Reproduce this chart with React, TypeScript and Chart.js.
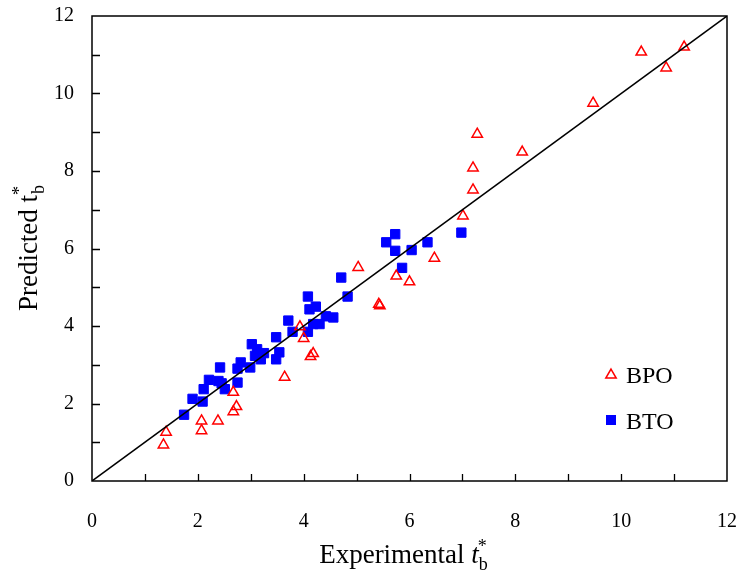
import React, { useEffect, useRef } from 'react';
import { Chart, registerables } from 'chart.js';

Chart.register(...registerables);

const SERIF = '"Liberation Serif", "Times New Roman", serif';

// Axis settings
const axisMin = 0;
const axisMax = 12;
const majorTicks = [0, 2, 4, 6, 8, 10, 12];
const minorTicks = [1, 2, 3, 4, 5, 6, 7, 8, 9, 10, 11];

// Series names
const seriesNames = ['BPO', 'BTO'];

// BPO (red open triangles)
const bpoX = [1.35, 1.40, 2.07, 2.07, 2.38, 2.67, 2.73, 2.67, 3.64, 3.93, 4.00, 4.13, 4.18, 5.03, 5.42, 5.44, 5.75, 6.00, 6.47, 7.01, 7.20, 7.20, 7.28, 8.13, 9.47, 10.38, 10.85, 11.19];
const bpoY = [0.93, 1.26, 1.55, 1.30, 1.55, 2.29, 1.92, 1.79, 2.68, 3.98, 3.68, 3.21, 3.29, 5.51, 4.56, 4.52, 5.29, 5.14, 5.75, 6.84, 7.51, 8.08, 8.95, 8.49, 9.75, 11.07, 10.66, 11.20];

// BTO (blue filled squares)
const btoX = [1.74, 1.90, 2.09, 2.11, 2.21, 2.39, 2.45, 2.51, 2.42, 2.75, 2.75, 2.81, 2.99, 3.02, 3.12, 3.25, 3.19, 3.08, 3.48, 3.54, 3.48, 3.71, 3.79, 4.08, 4.08, 4.11, 4.23, 4.18, 4.30, 4.42, 4.56, 4.83, 4.71, 5.56, 5.73, 5.73, 5.86, 6.04, 6.34, 6.98];
const btoY = [1.71, 2.12, 2.05, 2.37, 2.61, 2.58, 2.52, 2.37, 2.93, 2.54, 2.90, 3.06, 2.93, 3.53, 3.40, 3.30, 3.14, 3.23, 3.14, 3.32, 3.71, 4.14, 3.85, 3.85, 4.76, 4.43, 4.50, 4.05, 4.05, 4.25, 4.22, 4.76, 5.25, 6.16, 6.37, 5.94, 5.50, 5.96, 6.16, 6.41];

// 1:1 line
const parityX = [0, 12];
const parityY = [0, 12];

const RED = '#FF0000';
const BLUE = '#0000FF';

const decorPlugin = {
  id: 'decor',
  afterDraw(chart: any) {
    const { ctx, chartArea } = chart;
    const { left, right, top, bottom } = chartArea;
    const xs = chart.scales.x;
    const ys = chart.scales.y;
    ctx.save();
    // frame
    ctx.strokeStyle = '#000';
    ctx.lineWidth = 1.5;
    ctx.strokeRect(left, top, right - left, bottom - top);
    // inward ticks
    ctx.lineWidth = 1.3;
    ctx.beginPath();
    minorTicks.forEach((v) => {
      const px = Math.round(xs.getPixelForValue(v)) + 0.5;
      ctx.moveTo(px, bottom);
      ctx.lineTo(px, bottom - 7);
      const py = Math.round(ys.getPixelForValue(v)) + 0.5;
      ctx.moveTo(left, py);
      ctx.lineTo(left + 8, py);
    });
    ctx.stroke();

    // x title: "Experimental t*_b"
    ctx.fillStyle = '#000';
    ctx.textBaseline = 'alphabetic';
    ctx.textAlign = 'left';
    const mainFont = `27px ${SERIF}`;
    const italFont = `italic 27px ${SERIF}`;
    const smallFont = `18px ${SERIF}`;
    ctx.font = mainFont;
    const w1 = ctx.measureText('Experimental ').width;
    ctx.font = italFont;
    const w2 = ctx.measureText('t').width;
    ctx.font = smallFont;
    const w3 = ctx.measureText('b').width;
    const totalX = w1 + w2 + w3;
    const cx = (left + right) / 2 - 6;
    const x0 = cx - totalX / 2;
    const by = 563;
    ctx.font = mainFont;
    ctx.fillText('Experimental ', x0, by);
    ctx.font = italFont;
    ctx.fillText('t', x0 + w1, by);
    ctx.font = smallFont;
    ctx.fillText('b', x0 + w1 + w2, by + 7);
    ctx.fillText('*', x0 + w1 + w2 - 1, by - 11);

    // y title: "Predicted t*_b" rotated
    ctx.save();
    const cy = (top + bottom) / 2;
    ctx.translate(37, cy);
    ctx.rotate(-Math.PI / 2);
    ctx.font = mainFont;
    const u1 = ctx.measureText('Predicted t').width;
    ctx.font = smallFont;
    const u2 = ctx.measureText('b').width;
    const sx = -(u1 + u2) / 2;
    ctx.font = mainFont;
    ctx.fillText('Predicted t', sx, 0);
    ctx.font = smallFont;
    ctx.fillText('b', sx + u1 + 1, 7);
    ctx.fillText('*', sx + u1, -12);
    ctx.restore();

    // legend
    const lx = right - 116;
    const ly1 = top + 359;
    const ly2 = top + 404;
    const r = 6;
    ctx.strokeStyle = RED;
    ctx.lineWidth = 1.5;
    ctx.beginPath();
    ctx.moveTo(lx, ly1 - r);
    ctx.lineTo(lx + r * Math.sin(Math.PI * 2 / 3), ly1 - r * Math.cos(Math.PI * 2 / 3));
    ctx.lineTo(lx + r * Math.sin(Math.PI * 4 / 3), ly1 - r * Math.cos(Math.PI * 4 / 3));
    ctx.closePath();
    ctx.stroke();
    ctx.fillStyle = BLUE;
    ctx.fillRect(lx - 5, ly2 - 5, 10, 10);
    ctx.fillStyle = '#000';
    ctx.font = `24px ${SERIF}`;
    ctx.fillText(seriesNames[0], lx + 15, ly1 + 8);
    ctx.fillText(seriesNames[1], lx + 15, ly2 + 9);
    ctx.restore();
  },
};

const zeroPad = (s: any) => {
  s.paddingLeft = 0;
  s.paddingRight = 0;
  s.paddingTop = 0;
  s.paddingBottom = 0;
};

export default function App() {
  const ref = useRef<HTMLCanvasElement | null>(null);
  useEffect(() => {
    document.body.style.margin = '0';
    const canvas = ref.current;
    if (!canvas) return;
    const chart = new Chart(canvas, {
      type: 'scatter',
      data: {
        datasets: [
          {
            type: 'line',
            label: '1:1',
            data: parityX.map((x, i) => ({ x, y: parityY[i] })),
            borderColor: '#000',
            borderWidth: 1.5,
            pointRadius: 0,
            fill: false,
          } as any,
          {
            label: seriesNames[0],
            data: bpoX.map((x, i) => ({ x, y: bpoY[i] })),
            pointStyle: 'triangle',
            pointRadius: 6,
            pointBorderWidth: 1.5,
            borderColor: RED,
            backgroundColor: 'rgba(0,0,0,0)',
          },
          {
            label: seriesNames[1],
            data: btoX.map((x, i) => ({ x, y: btoY[i] })),
            pointStyle: 'rect',
            pointRadius: 6.6,
            pointBorderWidth: 1,
            borderColor: BLUE,
            backgroundColor: BLUE,
          },
        ],
      },
      options: {
        animation: false,
        responsive: false,
        devicePixelRatio: 1,
        layout: { padding: { top: 16, right: 16, left: 0, bottom: 0 } },
        plugins: {
          legend: { display: false },
          tooltip: { enabled: false },
        },
        scales: {
          x: {
            type: 'linear',
            min: axisMin,
            max: axisMax,
            afterFit: (s: any) => { s.height = 97; zeroPad(s); },
            grid: { display: false, drawTicks: false },
            border: { display: false },
            ticks: {
              stepSize: 1,
              autoSkip: false,
              maxRotation: 0,
              padding: 29,
              color: '#000',
              font: { family: SERIF, size: 20 },
              callback: (v: any) => (majorTicks.includes(Number(v)) ? String(v) : ''),
            },
          },
          y: {
            type: 'linear',
            min: axisMin,
            max: axisMax,
            afterFit: (s: any) => { s.width = 92; zeroPad(s); },
            grid: { display: false, drawTicks: false },
            border: { display: false },
            ticks: {
              stepSize: 1,
              autoSkip: false,
              padding: 18,
              color: '#000',
              font: { family: SERIF, size: 20 },
              callback: (v: any) => (majorTicks.includes(Number(v)) ? String(v) : ''),
            },
          },
        },
      },
      plugins: [decorPlugin],
    });
    return () => chart.destroy();
  }, []);
  return (
    <div style={{ width: 743, height: 578, background: '#fff' }}>
      <canvas ref={ref} width={743} height={578} />
    </div>
  );
}
